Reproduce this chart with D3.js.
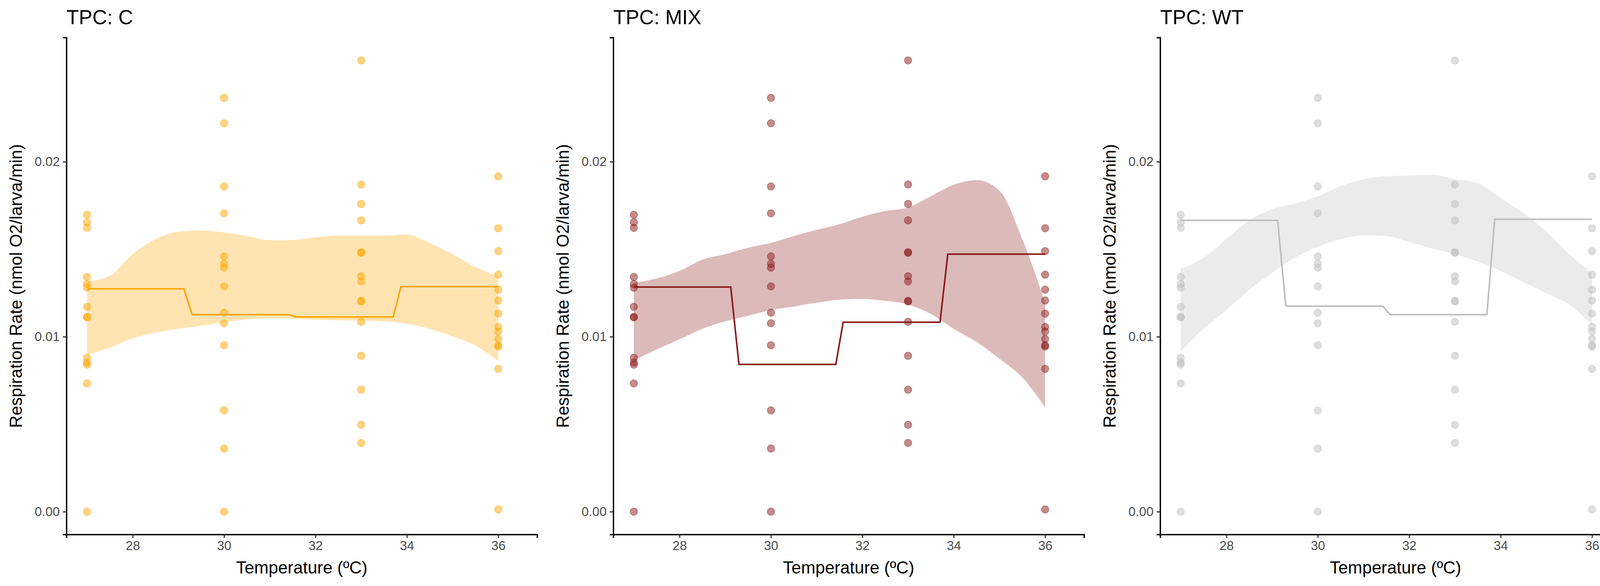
<!DOCTYPE html>
<html><head><meta charset="utf-8">
<script src="https://cdn.jsdelivr.net/npm/d3@7"></script>
<style>body{margin:0;background:#fff}text{font-family:"Liberation Sans",Arial,sans-serif}</style>
</head><body><svg id="c" width="4200" height="1500"></svg>
<script>
const panels=["C","MIX","WT"];
const colors=["#FFA500","#8B1A1A","#BEBEBE"];
const temps27=[0.01697,0.01654,0.01622,0.01342,0.01301,0.0128,0.01171,0.01113,0.01111,0.0088,0.00853,0.0084,0.00733,0];
const temps30=[0.02365,0.0222,0.01859,0.01705,0.01459,0.01417,0.01395,0.01288,0.01137,0.01077,0.00951,0.00579,0.00361,0];
const temps33=[0.02579,0.0187,0.01759,0.01665,0.01483,0.01479,0.01346,0.01316,0.01205,0.01201,0.01085,0.00891,0.00697,0.00496,0.00393];
const temps36=[0.01917,0.0162,0.01489,0.01355,0.01269,0.01207,0.01132,0.01056,0.0103,0.00987,0.00951,0.00944,0.00816,0.00013];
const ribbonX=[27,27.5,28,28.5,29,29.5,30,30.5,31,31.5,32,32.5,33,33.5,34,34.5,35,35.5,36];
const upperC=[.01316,.01348,.01472,.01558,.0160,.01607,.01596,.01575,.01551,.01553,.01568,.01579,.01579,.01579,.01583,.01536,.01472,.01397,.01344];
const lowerC=[.00895,.00938,.00991,.01024,.01045,.01062,.01083,.01098,.01105,.01103,.01098,.01094,.01092,.01088,.01075,.01045,.01002,.00949,.00863];
const upperMIX=[.01308,.01333,.01376,.0144,.01472,.01509,.01536,.01575,.01611,.01643,.01686,.01718,.01739,.01803,.01868,.01895,.01835,.01558,.01194];
const lowerMIX=[.00863,.00927,.00985,.01045,.01088,.0112,.01152,.01173,.01194,.01212,.01216,.01205,.01184,.0113,.01045,.0097,.00874,.00767,.00596];
const upperWT=[.01387,.01451,.01558,.01665,.01729,.01761,.01803,.01861,.019,.01917,.01921,.01925,.019,.01878,.01793,.01707,.016,.01472,.01365];
const lowerWT=[.00917,.01045,.01152,.01269,.01365,.01451,.01515,.01558,.01579,.01575,.01541,.01504,.01472,.01429,.01376,.01312,.01248,.01184,.01066];
const lineX=[27,29.12,29.3,31.42,31.58,33.7,33.87,36];
const lineC=[0.01274,0.01274,0.01126,0.01126,0.01113,0.01113,0.01286,0.01286];
const lineMIX=[0.01284,0.01284,0.00842,0.00842,0.01083,0.01083,0.01472,0.01472];
const lineWT=[0.01665,0.01665,0.01175,0.01175,0.01126,0.01126,0.01671,0.01671];
const xTicks=[28,30,32,34,36];
const yTicks=[0,0.01,0.02];
const yTickLabels=["0.00","0.01","0.02"];

const ribbons=[[upperC,lowerC],[upperMIX,lowerMIX],[upperWT,lowerWT]];
const lines=[lineC,lineMIX,lineWT];
const points=[];
[[27,temps27],[30,temps30],[33,temps33],[36,temps36]].forEach(([t,vs])=>vs.forEach(v=>points.push({t,v})));

const svg=d3.select("#c");
panels.forEach((name,i)=>{
  const g=svg.append("g").attr("transform",`translate(${i*1400},0)`);
  const x=d3.scaleLinear().domain([26.55,36.85]).range([170,1375]);
  const y=d3.scaleLinear().domain([-0.0013,0.0271]).range([1368,96]);
  const [up,lo]=ribbons[i];
  g.append("path").datum(ribbonX.map((t,k)=>({t,u:up[k],l:lo[k]})))
    .attr("d",d3.area().x(d=>x(d.t)).y0(d=>y(d.l)).y1(d=>y(d.u)).curve(d3.curveMonotoneX))
    .attr("fill",colors[i]).attr("fill-opacity",0.3);
  g.append("path").datum(lineX.map((t,k)=>({t,v:lines[i][k]})))
    .attr("d",d3.line().x(d=>x(d.t)).y(d=>y(d.v)))
    .attr("fill","none").attr("stroke",colors[i]).attr("stroke-width",4);
  g.selectAll("circle").data(points).join("circle")
    .attr("cx",d=>x(d.t)).attr("cy",d=>y(d.v)).attr("r",9.5)
    .attr("fill",colors[i]).attr("fill-opacity",0.5).attr("stroke",colors[i]).attr("stroke-opacity",0.5).attr("stroke-width",1.5);
  const xa=g.append("g").attr("transform","translate(0,1368)").call(d3.axisBottom(x).tickValues(xTicks).tickSize(9).tickPadding(8));
  const ya=g.append("g").attr("transform","translate(170,0)").call(d3.axisLeft(y).tickValues(yTicks).tickFormat((d,k)=>yTickLabels[k]).tickSize(9).tickPadding(8));
  [xa,ya].forEach(a=>{a.select(".domain").attr("stroke","#000").attr("stroke-width",3.5);
    a.selectAll(".tick line").attr("stroke","#333").attr("stroke-width",3);
    a.selectAll(".tick text").attr("fill","#4d4d4d").style("font-size","33px");});
  g.append("text").attr("x",170).attr("y",62).style("font-size","52px").text("TPC: "+name);
  g.append("text").attr("x",(170+1375)/2).attr("y",1468).attr("text-anchor","middle").style("font-size","44px").text("Temperature (ºC)");
  g.append("text").attr("transform",`translate(56,${(96+1368)/2}) rotate(-90)`).attr("text-anchor","middle").style("font-size","44px").text("Respiration Rate (nmol O2/larva/min)");
});
</script></body></html>
